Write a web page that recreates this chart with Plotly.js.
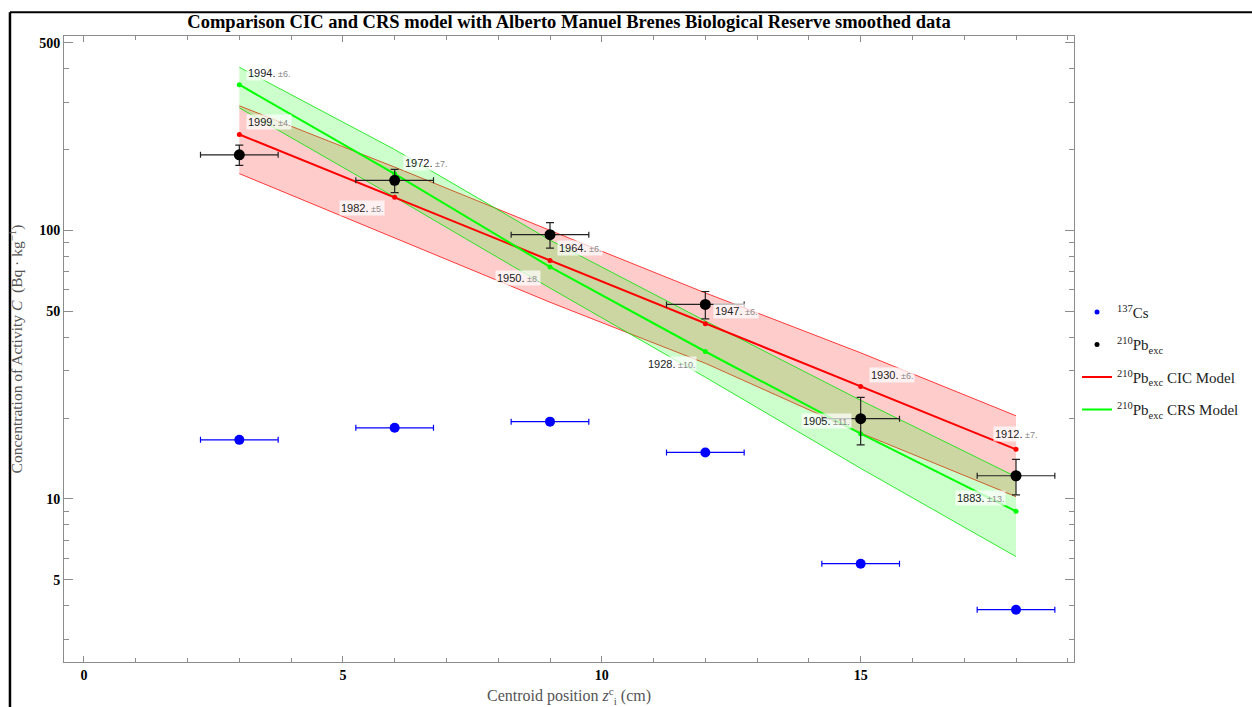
<!DOCTYPE html>
<html><head><meta charset="utf-8">
<script src="https://cdn.plot.ly/plotly-3.0.1.min.js"></script>
<style>html,body{margin:0;padding:0;background:#fff}#chart{width:1252px;height:707px}</style>
</head><body><div id="chart"></div>
<script>
// ---- data ----
const depth = [3, 6, 9, 12, 15, 18];
const depthErr = [0.75, 0.75, 0.75, 0.75, 0.75, 0.75];
const cs137 = [16.6, 18.4, 19.4, 14.9, 5.74, 3.87];
const pb210 = [191, 153.5, 96.4, 53.0, 19.9, 12.2];
const pb210Err = [16.5, 15.3, 10.5, 6.2, 4.0, 1.85];
const cicModel = [227.5, 132.7, 77.3, 44.9, 26.2, 15.3];
const cicUpper = [291, 172, 100, 58.5, 35, 20.4];
const cicLower = [162.6, 94, 54, 32, 17.6, 10.2];
const crsModel = [348.7, 162.3, 73.1, 35.4, 17.5, 9.0];
const crsUpper = [405, 200, 92, 46, 23.3, 12.1];
const crsLower = [286, 133, 61, 28.4, 13, 6.1];
const cicDates = ["1999", "1982", "1964", "1947", "1930", "1912"];
const cicDateErr = ["4", "5", "6", "6", "6", "7"];
const crsDates = ["1994", "1972", "1950", "1928", "1905", "1883"];
const crsDateErr = ["6", "7", "8", "10", "11", "13"];
const yMajorTicks = [5, 10, 50, 100, 500];
const yMajorLabels = ["5", "10", "50", "100", "500"];
const yMinorTicks = [3,4,6,7,8,9,20,30,40,60,70,80,90,200,300,400];
const xMajorTicks = [0, 5, 10, 15];
const xMinorTicks = [1,2,3,4,6,7,8,9,11,12,13,14,16,17,18,19];

// ---- label placement (style) ----
const cicLabelPos = [
  {xa:'left', dx:7, dy:12}, {xa:'right', dx:-10, dy:-11}, {xa:'left', dx:7, dy:12},
  {xa:'left', dx:8, dy:13}, {xa:'left', dx:8, dy:12}, {xa:'center', dx:0, dy:15}];
const crsLabelPos = [
  {xa:'left', dx:7, dy:12}, {xa:'left', dx:8, dy:11}, {xa:'right', dx:-9, dy:-11},
  {xa:'right', dx:-8, dy:-12}, {xa:'right', dx:-9, dy:13}, {xa:'right', dx:-10, dy:13}];

const RED = 'rgb(255,0,0)', GREEN = 'rgb(0,255,0)';
const serif = 'Liberation Serif, Times New Roman, serif';

const traces = [
  // CIC band
  {x: depth, y: cicLower, mode: 'lines', line: {color: 'rgba(255,0,0,0.75)', width: 1}, showlegend: false, hoverinfo: 'skip'},
  {x: depth, y: cicUpper, mode: 'lines', fill: 'tonexty', fillcolor: 'rgba(255,0,0,0.2)', line: {color: 'rgba(255,0,0,0.75)', width: 1}, showlegend: false, hoverinfo: 'skip'},
  // CRS band
  {x: depth, y: crsLower, mode: 'lines', line: {color: 'rgba(0,230,0,0.8)', width: 1}, showlegend: false, hoverinfo: 'skip'},
  {x: depth, y: crsUpper, mode: 'lines', fill: 'tonexty', fillcolor: 'rgba(0,255,0,0.2)', line: {color: 'rgba(0,230,0,0.8)', width: 1}, showlegend: false, hoverinfo: 'skip'},
  // models
  {x: depth, y: cicModel, mode: 'lines+markers', line: {color: RED, width: 2}, marker: {color: RED, size: 5}, showlegend: false},
  {x: depth, y: crsModel, mode: 'lines+markers', line: {color: GREEN, width: 2}, marker: {color: GREEN, size: 5}, showlegend: false},
  // Cs-137
  {x: depth, y: cs137, mode: 'markers', marker: {color: 'rgb(0,0,255)', size: 10},
   error_x: {type: 'data', array: depthErr, color: 'rgb(0,0,255)', thickness: 1.2, width: 3}, showlegend: false},
  // Pb-210
  {x: depth, y: pb210, mode: 'markers', marker: {color: 'rgb(0,0,0)', size: 11},
   error_x: {type: 'data', array: depthErr, color: '#222', thickness: 1.2, width: 3},
   error_y: {type: 'data', array: pb210Err, color: '#222', thickness: 1.2, width: 4}, showlegend: false},
  // legend entries
  {x: [null], y: [null], mode: 'markers', marker: {color: 'rgb(0,0,255)', size: 5}, name: '<sup>137</sup>Cs', legendgroup: 'a'},
  {x: [null], y: [null], mode: 'markers', marker: {color: 'rgb(0,0,0)', size: 5}, name: '<sup>210</sup>Pb<sub>exc</sub>', legendgroup: 'b'},
  {x: [null], y: [null], mode: 'lines', line: {color: RED, width: 2}, name: '<sup>210</sup>Pb<sub>exc</sub> CIC Model', legendgroup: 'c'},
  {x: [null], y: [null], mode: 'lines', line: {color: GREEN, width: 2}, name: '<sup>210</sup>Pb<sub>exc</sub> CRS Model', legendgroup: 'd'}
];

function makeLabels(dates, errs, vals, pos) {
  return dates.map((d, i) => ({
    x: depth[i], y: Math.log10(vals[i]), xref: 'x', yref: 'y',
    text: d + '.<span style="color:#8a8a8a;font-size:9px"> ±' + errs[i] + '.</span>',
    showarrow: false, xanchor: pos[i].xa, yanchor: 'middle',
    xshift: pos[i].dx, yshift: pos[i].dy,
    bgcolor: 'rgba(255,255,255,0.72)', borderpad: 1,
    font: {family: 'Liberation Sans, Arial, sans-serif', size: 11, color: '#222'}
  }));
}

const annotations = makeLabels(cicDates, cicDateErr, cicModel, cicLabelPos)
  .concat(makeLabels(crsDates, crsDateErr, crsModel, crsLabelPos));

const layout = {
  width: 1252, height: 707,
  margin: {l: 64, r: 178, t: 36, b: 45, autoexpand: false},
  paper_bgcolor: '#fff', plot_bgcolor: '#fff',
  title: {text: '<b>Comparison CIC and CRS model with Alberto Manuel Brenes Biological Reserve smoothed data</b>',
          font: {family: serif, size: 18.5, color: '#000'}, x: 0.5, xref: 'paper', xanchor: 'center',
          y: 0.969, yref: 'container', yanchor: 'middle'},
  xaxis: {
    range: [-0.386, 19.12], showgrid: false, zeroline: false,
    showline: true, linecolor: '#8c8c8c', linewidth: 1, mirror: 'ticks',
    ticks: 'inside', ticklen: 6, tickcolor: '#8c8c8c', tickwidth: 1,
    tickmode: 'array', tickvals: xMajorTicks, ticktext: xMajorTicks.map(String),
    minor: {tickmode: 'array', tickvals: xMinorTicks, ticks: 'inside', ticklen: 4, tickcolor: '#8c8c8c', showgrid: false},
    tickfont: {family: serif, size: 14, color: '#000', weight: 'bold'},
    title: {text: 'Centroid position <i>z</i><sup>c</sup><sub>i</sub> (cm)', font: {family: serif, size: 16, color: '#555'}, standoff: 8}
  },
  yaxis: {
    type: 'log', range: [0.393, 2.7236], showgrid: false, zeroline: false,
    showline: true, linecolor: '#8c8c8c', linewidth: 1, mirror: 'ticks',
    ticks: 'inside', ticklen: 9, tickcolor: '#8c8c8c', tickwidth: 1,
    tickmode: 'array', tickvals: yMajorTicks, ticktext: yMajorLabels,
    minor: {tickmode: 'array', tickvals: yMinorTicks, ticks: 'inside', ticklen: 5, tickcolor: '#8c8c8c', showgrid: false},
    tickfont: {family: serif, size: 14, color: '#000', weight: 'bold'},
    title: {text: 'Concentration of Activity <i>C</i>  (Bq · kg<sup>−1</sup>)', font: {family: serif, size: 15.5, color: '#555'}, standoff: 12}
  },
  legend: {x: 1.003, xanchor: 'left', y: 0.585, yanchor: 'top', font: {family: serif, size: 15, color: '#222'},
           bgcolor: 'rgba(0,0,0,0)', traceorder: 'grouped', tracegroupgap: 10, itemwidth: 30},
  annotations: annotations,
  shapes: [
    {type: 'line', xref: 'paper', yref: 'paper', x0: -0.0535, x1: -0.0535, y0: 1.0378, y1: -0.08, line: {color: '#000', width: 2.5}},
    {type: 'line', xref: 'paper', yref: 'paper', x0: -0.0535, x1: 1.2, y0: 1.0378, y1: 1.0378, line: {color: '#000', width: 2}}
  ],
  showlegend: true
};

Plotly.newPlot('chart', traces, layout, {displayModeBar: false, staticPlot: true});
</script>
</body></html>
